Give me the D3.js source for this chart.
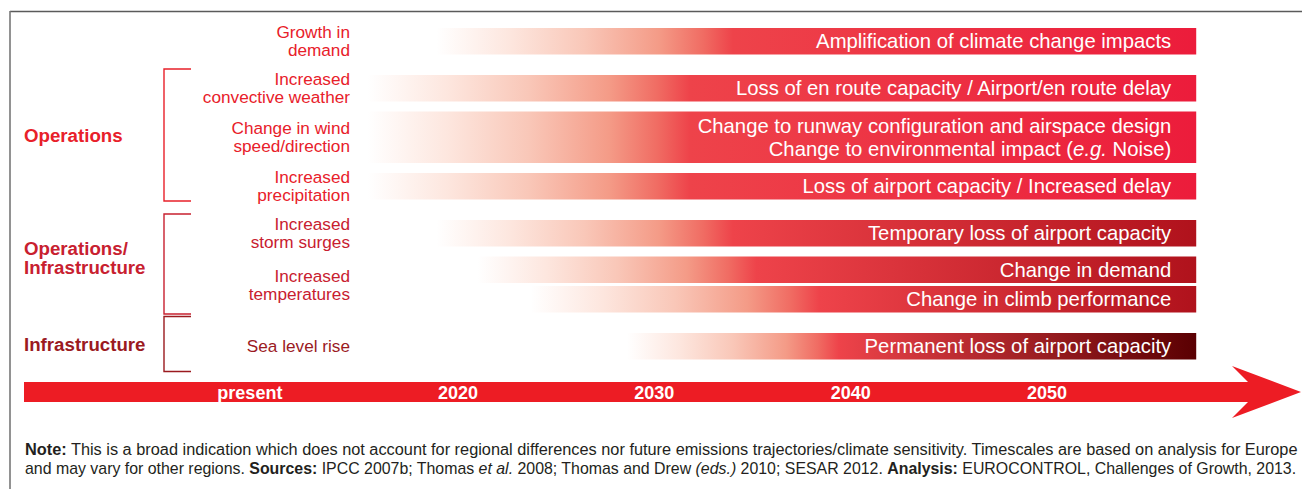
<!DOCTYPE html>
<html><head><meta charset="utf-8">
<script src="https://cdn.jsdelivr.net/npm/d3@7"></script>
<style>
html,body{margin:0;padding:0;background:#fff;}
svg{display:block;font-family:"Liberation Sans",Arial,Helvetica,sans-serif;}
</style>
</head><body>
<svg id="chart" width="1302" height="489"></svg>
<script>
// ---------------- DATA ----------------
const driverLines = [
  ["Growth in", "demand"],
  ["Increased", "convective weather"],
  ["Change in wind", "speed/direction"],
  ["Increased", "precipitation"],
  ["Increased", "storm surges"],
  ["Increased", "temperatures"],
  ["Sea level rise"]
];
const driverGroup = ["", "Operations", "Operations", "Operations",
  "Operations/Infrastructure", "Operations/Infrastructure", "Infrastructure"];
const groupNames = ["Operations", "Operations/Infrastructure", "Infrastructure"];
const groupLines = [["Operations"], ["Operations/", "Infrastructure"], ["Infrastructure"]];

const impactDriver = [0, 1, 2, 3, 4, 5, 5, 6];
const impactLines = [
  ["Amplification of climate change impacts"],
  ["Loss of en route capacity / Airport/en route delay"],
  ["Change to runway configuration and airspace design", "Change to environmental impact (*e.g.* Noise)"],
  ["Loss of airport capacity / Increased delay"],
  ["Temporary loss of airport capacity"],
  ["Change in demand"],
  ["Change in climb performance"],
  ["Permanent loss of airport capacity"]
];
// years at which each impact starts to appear, becomes full, and ends
const impactStart = [2018.9, 2015.4, 2015.4, 2015.4, 2018.9, 2021.0, 2023.7, 2028.6];
const impactFull  = [2034.0, 2031.8, 2031.8, 2031.8, 2034.0, 2035.2, 2038.4, 2039.4];
const impactEnd   = [2057.6, 2057.6, 2057.6, 2057.6, 2057.6, 2057.6, 2057.6, 2057.6];

const tickLabels = ["present", "2020", "2030", "2040", "2050"];
const tickYears  = [2009.4, 2020, 2030, 2040, 2050];

const noteLines = [
  [{t: "Note:", b: 1}, {t: " This is a broad indication which does not account for regional differences nor future emissions trajectories/climate sensitivity. Timescales are based on analysis for Europe"}],
  [{t: "and may vary for other regions. "}, {t: "Sources:", b: 1}, {t: " IPCC 2007b; Thomas "}, {t: "et al.", i: 1},
   {t: " 2008; Thomas and Drew "}, {t: "(eds.)", i: 1}, {t: " 2010; SESAR 2012. "}, {t: "Analysis:", b: 1},
   {t: " EUROCONTROL, Challenges of Growth, 2013."}]
];

// ---------------- STYLE / LAYOUT ----------------
const W = 1302, H = 489;
const svg = d3.select("#chart");
const x = d3.scaleLinear().domain([2020, 2050]).range([458, 1047]);

const labelColor = d3.scaleOrdinal().domain(["", ...groupNames]).range(["#e8202a", "#e8202a", "#c8202f", "#9b1a1f"]);
const endColor   = d3.scaleOrdinal().domain(["", ...groupNames]).range(["#ec1c3b", "#ec1c3b", "#b0121c", "#5a0002"]);
const fullRed = "#ee434a";

// vertical layout computed from structure
const top0 = 28, h1 = 26.5, hLine = 25, gapGroup = 20.5, gapDriver = 10, gapSame = 3;
const bars = impactLines.map((lines, i) => ({
  i, lines, driver: impactDriver[i], group: driverGroup[impactDriver[i]],
  start: impactStart[i], full: impactFull[i], end: impactEnd[i]
}));
bars.forEach((b, i) => {
  const h = h1 + (b.lines.length - 1) * hLine;
  if (i === 0) b.y = top0;
  else {
    const p = bars[i - 1];
    const gap = p.group !== b.group ? gapGroup : (p.driver !== b.driver ? gapDriver : gapSame);
    b.y = p.y + p.h + gap;
  }
  b.h = h;
});
const yTop = d3.scaleOrdinal().domain(bars.map(b => b.i)).range(bars.map(b => b.y));

// frame
svg.append("line").attr("x1", 10).attr("x2", W).attr("y1", 11.5).attr("y2", 11.5)
  .attr("stroke", "#5a5a5a").attr("stroke-width", 1.6);
svg.append("line").attr("x1", 10).attr("x2", 10).attr("y1", 11).attr("y2", H)
  .attr("stroke", "#777").attr("stroke-width", 1.6);

// gradients
const defs = svg.append("defs");
const fadeStops = [[0, "#ffffff"], [0.25, "#fde6de"], [0.5, "#f9c7b8"], [0.75, "#f49b87"], [0.9, "#f06c63"], [1, fullRed]];
bars.forEach(b => {
  const x0 = x(b.start), x1 = x(b.end), xf = x(b.full);
  const f = (xf - x0) / (x1 - x0);
  const g = defs.append("linearGradient").attr("id", "grad" + b.i)
    .attr("gradientUnits", "userSpaceOnUse").attr("x1", x0).attr("x2", x1).attr("y1", 0).attr("y2", 0);
  fadeStops.forEach(([o, c]) => g.append("stop").attr("offset", o * f).attr("stop-color", c));
  g.append("stop").attr("offset", 1).attr("stop-color", endColor(b.group));
});

// bars
svg.append("g").selectAll("rect").data(bars).join("rect")
  .attr("x", d => x(d.start)).attr("width", d => x(d.end) - x(d.start))
  .attr("y", d => yTop(d.i)).attr("height", d => d.h)
  .attr("fill", d => `url(#grad${d.i})`);

// bar texts
const barTextSize = 20.3, barLineH = 23;
bars.forEach(b => {
  const c = b.y + b.h / 2;
  const n = b.lines.length;
  b.lines.forEach((ln, k) => {
    const base = c + 7 - (n - 1) * barLineH / 2 + k * barLineH;
    const t = svg.append("text").attr("x", x(b.end) - 25).attr("y", base)
      .attr("text-anchor", "end").attr("fill", "#fff").attr("font-size", barTextSize);
    ln.split("*").forEach((seg, j) => {
      if (!seg) return;
      t.append("tspan").text(seg).attr("font-style", j % 2 ? "italic" : null);
    });
  });
});

// driver labels
const labelRight = 350, drvSize = 17.2, drvLineH = 18;
driverLines.forEach((lines, d) => {
  const bs = bars.filter(b => b.driver === d);
  const c = (bs[0].y + bs[bs.length - 1].y + bs[bs.length - 1].h) / 2;
  const n = lines.length;
  lines.forEach((ln, k) => {
    svg.append("text").attr("x", labelRight)
      .attr("y", c + 6 - (n - 1) * drvLineH / 2 + k * drvLineH)
      .attr("text-anchor", "end").attr("font-size", drvSize)
      .attr("fill", labelColor(driverGroup[d])).text(ln);
  });
});

// group brackets and labels
const brX = 164, brX2 = 191, grpSize = 18.7, grpLineH = 19;
groupNames.forEach((g, gi) => {
  const bs = bars.filter(b => b.group === g);
  let t = bs[0].y - 6, btm = bs[bs.length - 1].y + bs[bs.length - 1].h + 1.5;
  if (btm - t < 55) { const m = (t + btm) / 2; t = m - 27.5; btm = m + 27.5; }
  svg.append("path").attr("d", `M${brX2},${t}H${brX}V${btm}H${brX2}`)
    .attr("fill", "none").attr("stroke", labelColor(g)).attr("stroke-width", 1.4);
  const c = (t + btm) / 2;
  const lines = groupLines[gi], n = lines.length;
  lines.forEach((ln, k) => {
    svg.append("text").attr("x", 24).attr("y", c + 6.5 - (n - 1) * 15.5 + k * grpLineH)
      .attr("font-size", grpSize).attr("font-weight", "bold")
      .attr("fill", labelColor(g)).text(ln);
  });
});

// time axis arrow
const axTop = 382, axBot = 402, axL = 24, notch = 1248, headBack = 1232, tip = 1301, headTop = 366, headBot = 418;
svg.append("path")
  .attr("d", `M${axL},${axTop}H${notch}L${headBack},${headTop}L${tip},${(axTop + axBot) / 2}L${headBack},${headBot}L${notch},${axBot}H${axL}Z`)
  .attr("fill", "#ed1c24");
svg.append("g").selectAll("text").data(tickLabels).join("text")
  .attr("x", (d, i) => x(tickYears[i])).attr("y", 398.5)
  .attr("text-anchor", "middle").attr("font-size", 18).attr("font-weight", "bold")
  .attr("fill", "#fff").text(d => d);

// note
const noteTargets = [1298, 1297];
const noteBase = [455, 474];
noteLines.forEach((segs, li) => {
  const g = svg.append("g");
  const t = g.append("text").attr("x", 0).attr("y", 0).attr("font-size", 16).attr("fill", "#231f20");
  segs.forEach(s => t.append("tspan").text(s.t)
    .attr("font-weight", s.b ? "bold" : null).attr("font-style", s.i ? "italic" : null));
  const w = t.node().getComputedTextLength();
  const sx = (noteTargets[li] - 25) / w;
  g.attr("transform", `translate(25,${noteBase[li]}) scale(${sx},1)`);
});
</script>
</body></html>
